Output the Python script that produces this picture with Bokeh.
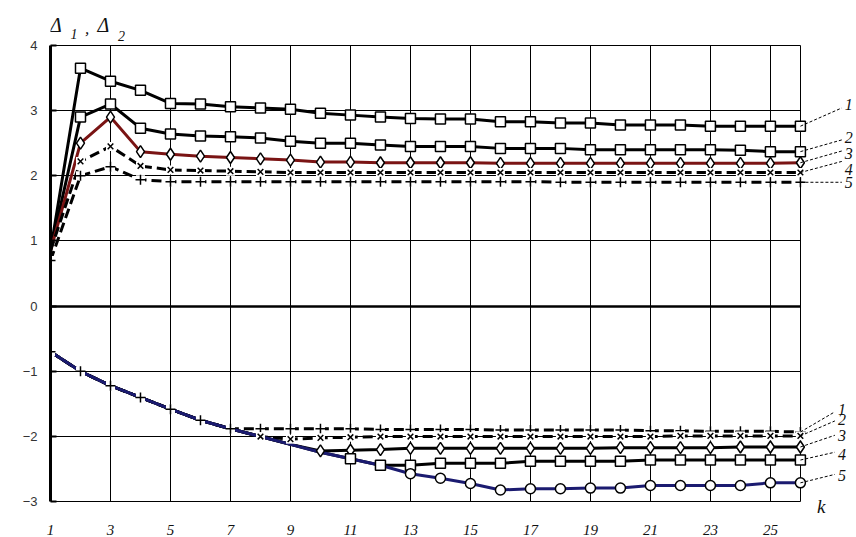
from bokeh.plotting import figure
from bokeh.models import Label, Arrow, FixedTicker, Range1d, Grid
from bokeh.embed import file_html
from bokeh.resources import INLINE

k = list(range(1, 27))
x_ticks = list(range(1, 26, 2))
y_ticks = list(range(-3, 5))

# Delta_1 curves (upper group)
d1_c1 = [0.85, 3.65, 3.45, 3.31, 3.11, 3.10, 3.06, 3.04, 3.02, 2.96, 2.93, 2.90, 2.88,
         2.87, 2.87, 2.83, 2.83, 2.81, 2.81, 2.78, 2.78, 2.78, 2.76, 2.76, 2.76, 2.76]
d1_c2 = [0.85, 2.90, 3.10, 2.73, 2.64, 2.61, 2.60, 2.58, 2.53, 2.50, 2.50, 2.47, 2.45,
         2.45, 2.45, 2.42, 2.42, 2.42, 2.40, 2.40, 2.40, 2.40, 2.40, 2.39, 2.37, 2.37]
d1_c3 = [0.85, 2.50, 2.90, 2.37, 2.33, 2.30, 2.28, 2.26, 2.24, 2.21, 2.21, 2.20, 2.20,
         2.20, 2.20, 2.19, 2.19, 2.19, 2.19, 2.19, 2.19, 2.19, 2.19, 2.19, 2.19, 2.20]
d1_c4 = [0.85, 2.22, 2.45, 2.15, 2.09, 2.08, 2.07, 2.06, 2.05, 2.05, 2.05, 2.05, 2.05,
         2.05, 2.05, 2.05, 2.05, 2.05, 2.05, 2.05, 2.05, 2.05, 2.05, 2.05, 2.05, 2.05]
d1_c5 = [0.70, 2.00, 2.14, 1.94, 1.91, 1.91, 1.91, 1.91, 1.91, 1.91, 1.91, 1.91, 1.91,
         1.91, 1.91, 1.91, 1.91, 1.90, 1.90, 1.90, 1.90, 1.90, 1.90, 1.90, 1.90, 1.90]

# Delta_2 curves (lower group)
d2_c1 = [-0.70, -1.00, -1.22, -1.40, -1.58, -1.75, -1.88, -1.88, -1.88, -1.88, -1.88, -1.89, -1.89,
         -1.89, -1.89, -1.90, -1.90, -1.90, -1.90, -1.90, -1.91, -1.91, -1.92, -1.92, -1.92, -1.93]
d2_c2 = [-0.70, -1.00, -1.22, -1.40, -1.58, -1.75, -1.88, -2.00, -2.04, -2.02, -2.01, -2.00, -2.00,
         -2.00, -2.00, -2.00, -2.00, -2.00, -2.00, -2.00, -2.00, -1.99, -1.99, -1.99, -1.99, -1.99]
d2_c3 = [-0.70, -1.00, -1.22, -1.40, -1.58, -1.75, -1.88, -2.00, -2.12, -2.22, -2.21, -2.20, -2.18,
         -2.18, -2.18, -2.18, -2.18, -2.18, -2.18, -2.17, -2.17, -2.17, -2.17, -2.16, -2.16, -2.16]
d2_c4 = [-0.70, -1.00, -1.22, -1.40, -1.58, -1.75, -1.88, -2.00, -2.12, -2.24, -2.34, -2.44, -2.44,
         -2.41, -2.41, -2.41, -2.38, -2.38, -2.38, -2.38, -2.36, -2.36, -2.36, -2.36, -2.36, -2.36]
d2_c5 = [-0.70, -1.00, -1.22, -1.40, -1.58, -1.75, -1.88, -2.00, -2.12, -2.24, -2.34, -2.44, -2.57,
         -2.64, -2.72, -2.82, -2.80, -2.80, -2.79, -2.79, -2.75, -2.75, -2.75, -2.75, -2.71, -2.71]

curve_labels = ["1", "2", "3", "4", "5"]
upper_label_y = [3.09, 2.58, 2.34, 2.09, 1.90]
upper_leader_y = [3.04, 2.55, 2.38, 2.22, 1.90]
lower_label_y = [-1.59, -1.74, -1.99, -2.28, -2.60]
lower_leader_y = [-1.62, -1.76, -1.98, -2.24, -2.58]

X0, X1 = 1, 26
Y0, Y1 = -3, 4

p = figure(width=856, height=537, output_backend="svg", toolbar_location=None,
           x_range=Range1d(X0, 27.87), y_range=Range1d(-3.18, 4.688),
           min_border_left=50, min_border_right=0, min_border_top=0, min_border_bottom=22)
p.background_fill_color = "white"
p.border_fill_color = "white"
p.outline_line_color = None

p.xaxis.ticker = FixedTicker(ticks=x_ticks)
p.yaxis.ticker = FixedTicker(ticks=y_ticks)
p.xaxis.bounds = (X0, X1)
p.yaxis.bounds = (Y0, Y1)

p.xgrid.ticker = FixedTicker(ticks=x_ticks + [X1])
p.ygrid.ticker = FixedTicker(ticks=y_ticks)
p.xgrid.cross_bounds = (Y0, Y1)
p.ygrid.cross_bounds = (X0, X1)
for g in (p.xgrid, p.ygrid):
    g.grid_line_color = "black"
    g.grid_line_width = 1
    g.grid_line_alpha = 1

zero_line = Grid(dimension=1, ticker=FixedTicker(ticks=[0]), cross_bounds=(X0, X1),
                 grid_line_color="black", grid_line_width=2.5)
p.add_layout(zero_line)

p.yaxis.axis_line_width = 3
p.yaxis.axis_line_color = "black"
p.yaxis.major_tick_in = 6
p.yaxis.major_tick_out = 0
p.yaxis.major_tick_line_width = 2
p.yaxis.minor_tick_line_color = None
p.yaxis.major_label_text_font = "Liberation Sans"
p.yaxis.major_label_text_font_size = "13px"
p.yaxis.major_label_text_color = "#333333"
p.yaxis.major_label_standoff = 13

p.xaxis.axis_line_color = None
p.xaxis.major_tick_line_color = None
p.xaxis.minor_tick_line_color = None
p.xaxis.major_label_text_font = "Liberation Serif"
p.xaxis.major_label_text_font_style = "italic"
p.xaxis.major_label_text_font_size = "15px"
p.xaxis.major_label_text_color = "#111111"
p.xaxis.major_label_standoff = 5

LW = 3
upper = [
    (d1_c1, "black", "solid", "square", 1),
    (d1_c2, "black", "solid", "square", 1),
    (d1_c3, "#7a1414", "solid", "diamond", 1),
    (d1_c4, "black", "10 5", "x", 1),
    (d1_c5, "black", "10 5", "cross", 0),
]
lower = [
    (d2_c1, "black", "10 5", "cross", 0),
    (d2_c2, "black", "10 5", "x", 7),
    (d2_c3, "black", "solid", "diamond", 9),
    (d2_c4, "black", "solid", "square", 10),
    (d2_c5, "#1b1b70", "solid", "circle", 12),
]
sizes = {"square": 10, "diamond": 12, "circle": 10, "x": 8, "cross": 10}

for ys, col, dash, mk, start in upper + lower:
    p.line(k, ys, line_color=col, line_width=LW, line_dash=dash)
for ys, col, dash, mk, start in upper + lower:
    xs_m = k[start:]
    ys_m = ys[start:]
    if mk in ("x", "cross"):
        p.scatter(xs_m, ys_m, marker="square", size=9, fill_color="white", line_color=None)
        p.scatter(xs_m, ys_m, marker=mk, size=sizes[mk], line_color="black",
                  line_width=1.5)
    else:
        p.scatter(xs_m, ys_m, marker=mk, size=sizes[mk], fill_color="white",
                  line_color="black", line_width=1.5)

# call-out leaders and numbers
upper_ends = [c[0][-1] for c in upper]
lower_ends = [c[0][-1] for c in lower]
label_style = dict(text_font="Liberation Serif", text_font_style="italic",
                   text_font_size="16px", text_baseline="middle", text_align="left",
                   text_color="#111111")
for i, lab in enumerate(curve_labels):
    ux = 27.38
    p.add_layout(Arrow(end=None, x_start=X1, y_start=upper_ends[i], x_end=ux,
                       y_end=upper_leader_y[i], line_color="black", line_width=1,
                       line_dash="3 2"))
    p.add_layout(Label(x=ux + 0.1, y=upper_label_y[i], text=lab, **label_style))
    lx = 27.15
    p.add_layout(Arrow(end=None, x_start=X1, y_start=lower_ends[i], x_end=lx,
                       y_end=lower_leader_y[i], line_color="black", line_width=1,
                       line_dash="3 2"))
    p.add_layout(Label(x=lx + 0.1, y=lower_label_y[i], text=lab, **label_style))

# axis titles
title_font = dict(text_font="Liberation Serif", text_font_style="italic",
                  text_baseline="alphabetic", text_color="#111111")
p.add_layout(Label(x=0.98, y=4.31, text="Δ", text_font_size="20px", **title_font))
p.add_layout(Label(x=1.67, y=4.18, text="1", text_font_size="14px", **title_font))
p.add_layout(Label(x=2.15, y=4.26, text=",", text_font_size="17px", **title_font))
p.add_layout(Label(x=2.57, y=4.31, text="Δ", text_font_size="20px", **title_font))
p.add_layout(Label(x=3.25, y=4.15, text="2", text_font_size="14px", **title_font))
p.add_layout(Label(x=26.55, y=-3.08, text="k", text_font="Liberation Serif",
                   text_font_style="italic", text_font_size="19px", text_baseline="middle",
                   text_color="#111111"))

open("out.html", "w").write(file_html(p, INLINE))
